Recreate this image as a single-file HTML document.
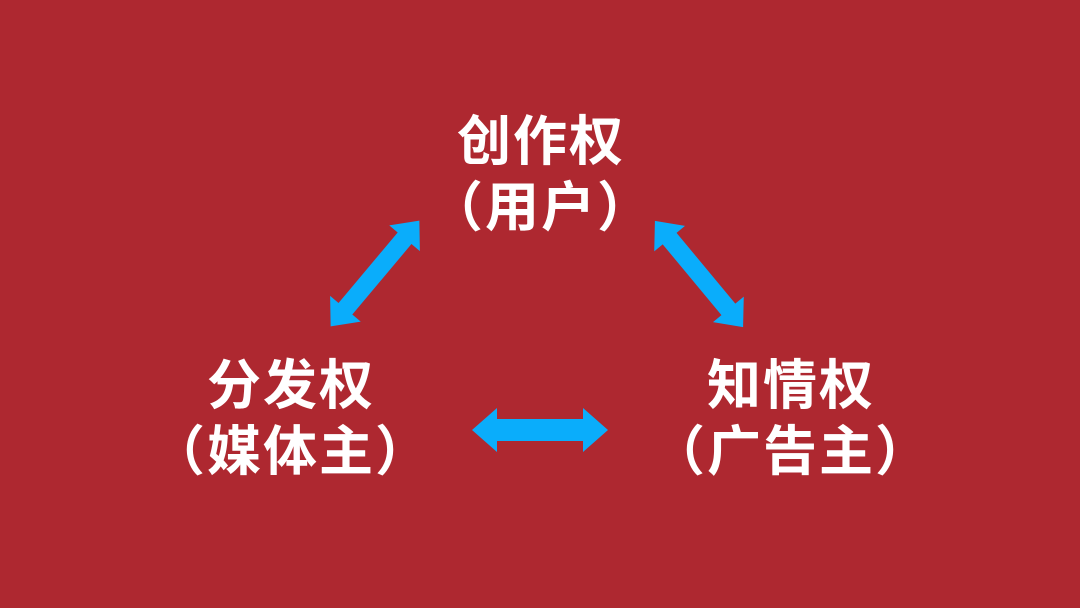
<!DOCTYPE html>
<html><head><meta charset="utf-8"><style>
html,body{margin:0;padding:0}
body{width:1080px;height:608px;background:#AE2830;position:relative;overflow:hidden;font-family:"Liberation Sans","Noto Sans CJK SC",sans-serif;}
.t{position:absolute;color:#fff;font-weight:bold;font-size:54px;letter-spacing:2px;text-align:center;width:400px;line-height:54px;white-space:nowrap}
svg{position:absolute;left:0;top:0}
</style></head><body>
<div class="t" style="left:341px;top:115px">创作权</div>
<div class="t" style="left:341px;top:181px">（用户）</div>
<div class="t" style="left:91px;top:359px">分发权</div>
<div class="t" style="left:91px;top:425px">（媒体主）</div>
<div class="t" style="left:591px;top:359px">知情权</div>
<div class="t" style="left:591px;top:425px">（广告主）</div>
<svg width="1080" height="608" viewBox="0 0 1080 608">
<defs>
<polygon id="a" points="-68,0 -43,-22 -43,-11 43,-11 43,-22 68,0 43,22 43,11 -43,11 -43,22" fill="#0AADFB"/>
<polygon id="d" points="-69,0 -46,-20 -46,-9 46,-9 46,-20 69,0 46,20 46,9 -46,9 -46,20" fill="#0AADFB"/>
</defs>
<use href="#a" transform="translate(540,430)"/>
<use href="#d" transform="translate(375,273.5) rotate(-50)"/>
<use href="#d" transform="translate(699,274) rotate(50.3)"/>
</svg>
</body></html>
